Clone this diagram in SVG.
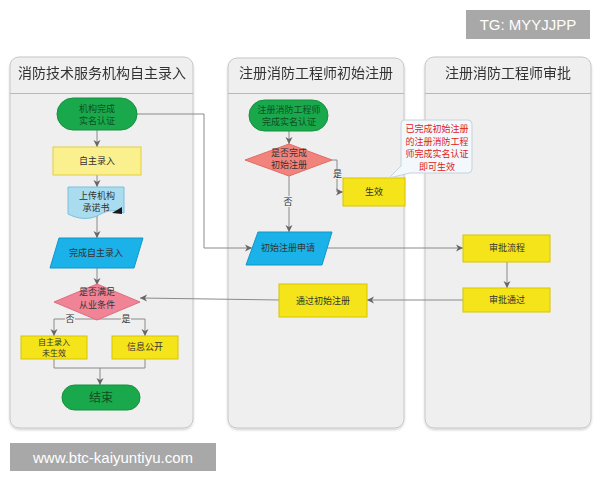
<svg xmlns="http://www.w3.org/2000/svg" width="600" height="480" viewBox="0 0 600 480">
<defs>
<marker id="arr" markerWidth="8" markerHeight="8" refX="7" refY="4" orient="auto" markerUnits="userSpaceOnUse">
<path d="M0,0.5 L7,4 L0,7.5 L2,4 Z" fill="#666"/>
</marker>
<filter id="sh" x="-5%" y="-5%" width="110%" height="110%">
<feDropShadow dx="0" dy="1.5" stdDeviation="1.2" flood-color="#000" flood-opacity="0.18"/>
</filter>
</defs>
<style>
.lane{fill:#efefef;stroke:#c6c6c6;stroke-width:1}
.hdr{stroke:#b8b8b8;stroke-width:1}
.title{font-family:"Noto Sans CJK SC","Noto Sans",sans-serif;font-size:14px;fill:#333;text-anchor:middle}
.t{font-family:"Noto Sans CJK SC","Noto Sans",sans-serif;font-size:9px;fill:#333;text-anchor:middle}
.s{font-size:8px}
.tg{font-family:"Noto Sans CJK SC","Noto Sans",sans-serif;font-size:9px;fill:#0f4f22;text-anchor:middle}
.tr{font-family:"Noto Sans CJK SC","Noto Sans",sans-serif;font-size:9px;fill:#e02020;text-anchor:middle}
.lbl{font-family:"Noto Sans CJK SC","Noto Sans",sans-serif;font-size:9px;fill:#333;text-anchor:middle}
.c{fill:none;stroke:#8a8a8a;stroke-width:1}
.pill{fill:#1aa84c;stroke:#15903f;stroke-width:1}
.ylw{fill:#f6e41a;stroke:#d6c400;stroke-width:1}
.ylw2{fill:#fbf08e;stroke:#e0d040;stroke-width:1}
.par{fill:#1ab2e8;stroke:#1296c8;stroke-width:1}
.wm{fill:#a8a8a8}
.wmt{font-family:"Liberation Sans",Arial,sans-serif;font-size:15px;fill:#fff}
</style>

<g id="lanes">
<g id="lane1" filter="url(#sh)">
<rect class="lane" x="10" y="57" width="183" height="371" rx="9"/>
<line class="hdr" x1="10" y1="93.5" x2="193" y2="93.5"/>
<text class="title" x="102" y="78">消防技术服务机构自主录入</text>
</g>
<g id="lane2" filter="url(#sh)">
<rect class="lane" x="228" y="58" width="176" height="370" rx="9"/>
<line class="hdr" x1="228" y1="93.5" x2="404" y2="93.5"/>
<text class="title" x="316" y="78">注册消防工程师初始注册</text>
</g>
<g id="lane3" filter="url(#sh)">
<rect class="lane" x="425" y="57" width="166" height="371" rx="9"/>
<line class="hdr" x1="425" y1="93.5" x2="591" y2="93.5"/>
<text class="title" x="508" y="78">注册消防工程师审批</text>
</g>
</g>

<g id="connectors">
<line class="c" x1="97" y1="130" x2="97" y2="147" marker-end="url(#arr)"/>
<line class="c" x1="97" y1="175" x2="97" y2="187" marker-end="url(#arr)"/>
<line class="c" x1="97" y1="216" x2="97" y2="238" marker-end="url(#arr)"/>
<line class="c" x1="97" y1="268" x2="97" y2="285" marker-end="url(#arr)"/>
<polyline class="c" points="97,320 97,319 54,319 54,336" marker-end="url(#arr)"/>
<polyline class="c" points="97,319 145,319 145,336" marker-end="url(#arr)"/>
<polyline class="c" points="54,359 54,368 145,368 145,359"/>
<line class="c" x1="100" y1="368" x2="100" y2="385" marker-end="url(#arr)"/>
<polyline class="c" points="137,114 204,114 204,248 252,248" marker-end="url(#arr)"/>
<line class="c" x1="289" y1="131" x2="289" y2="144" marker-end="url(#arr)"/>
<polyline class="c" points="332,160 337,160 337,192 343,192" marker-end="url(#arr)"/>
<line class="c" x1="289" y1="176" x2="289" y2="232" marker-end="url(#arr)"/>
<line class="c" x1="327" y1="248" x2="463" y2="248" marker-end="url(#arr)"/>
<line class="c" x1="507" y1="262" x2="507" y2="288" marker-end="url(#arr)"/>
<line class="c" x1="463" y1="300" x2="367" y2="300" marker-end="url(#arr)"/>
<polyline class="c" points="279,300 210,299 140,298" marker-end="url(#arr)"/>
<rect x="333" y="169" width="9" height="10" fill="#efefef"/>
<text class="lbl" x="337.5" y="177">是</text>
<rect x="283" y="196" width="10" height="11" fill="#efefef"/>
<text class="lbl" x="288" y="205">否</text>
<rect x="65" y="314" width="10" height="10" fill="#efefef"/>
<text class="lbl" x="70" y="322">否</text>
<rect x="121" y="314" width="10" height="10" fill="#efefef"/>
<text class="lbl" x="126" y="322">是</text>
</g>

<g id="n_start1">
<rect class="pill" x="57" y="98" width="80" height="32" rx="16"/>
<text class="tg" x="97" y="112">机构完成</text>
<text class="tg" x="97" y="124">实名认证</text>
</g>
<g id="n_input">
<rect class="ylw2" x="53" y="147" width="88" height="28"/>
<text class="t" x="97" y="164">自主录入</text>
</g>
<g id="n_doc">
<path d="M68,187 H124 V213 C112,208 104,212 97,216 C88,220 78,219 68,214 Z" fill="#a9dcef" stroke="#7cbfdb" stroke-width="1"/>
<path d="M112,213 L122,207 L122,214 Z" fill="#1a1a1a"/>
<text class="t" x="97" y="199">上传机构</text>
<text class="t" x="96" y="211">承诺书</text>
</g>
<g id="n_done">
<polygon class="par" points="59,238 143,238 134,268 50,268"/>
<text class="t" x="96" y="256">完成自主录入</text>
</g>
<g id="n_dec1">
<polygon points="97,284 140,302 97,320 54,302" fill="#f08496" stroke="#e06c80" stroke-width="1"/>
<text class="t" x="97" y="295">是否满足</text>
<text class="t" x="97" y="308">从业条件</text>
</g>
<g id="n_notyet">
<rect class="ylw" x="21" y="336" width="66" height="23"/>
<text class="t s" x="54" y="345">自主录入</text>
<text class="t s" x="54" y="356">未生效</text>
</g>
<g id="n_public">
<rect class="ylw" x="112" y="336" width="66" height="23"/>
<text class="t" x="145" y="350">信息公开</text>
</g>
<g id="n_end">
<rect class="pill" x="62" y="385" width="78" height="25" rx="12.5"/>
<text class="tg" x="101" y="402" style="font-size:12px">结束</text>
</g>

<g id="n_start2">
<rect class="pill" x="249" y="100" width="79" height="31" rx="15.5"/>
<text class="tg" x="289" y="113">注册消防工程师</text>
<text class="tg" x="289" y="125">完成实名认证</text>
</g>
<g id="n_dec2">
<polygon points="289,144 332,160 289,176 245,160" fill="#f2837c" stroke="#e06a64" stroke-width="1"/>
<text class="t" x="289" y="156">是否完成</text>
<text class="t" x="289" y="168">初始注册</text>
</g>
<g id="n_valid">
<rect class="ylw" x="343" y="178" width="62" height="28"/>
<text class="t" x="374" y="195">生效</text>
</g>
<g id="n_note">
<path d="M404,120 H468 Q472,120 472,124 V169 Q472,173 468,173 H410 L389,178 L401,166 V124 Q401,120 404,120 Z" fill="#f2f8fb" stroke="#c4d4dc" stroke-width="1"/>
<text class="tr" x="437" y="132">已完成初始注册</text>
<text class="tr" x="437" y="145">的注册消防工程</text>
<text class="tr" x="437" y="157">师完成实名认证</text>
<text class="tr" x="437" y="170">即可生效</text>
</g>
<g id="n_apply">
<polygon class="par" points="258,232 332,232 322,265 246,265"/>
<text class="t" x="288" y="251">初始注册申请</text>
</g>
<g id="n_pass">
<rect class="ylw" x="279" y="284" width="88" height="33"/>
<text class="t" x="323" y="304">通过初始注册</text>
</g>
<g id="n_flow">
<rect class="ylw" x="463" y="235" width="87" height="27"/>
<text class="t" x="507" y="251">审批流程</text>
</g>
<g id="n_approved">
<rect class="ylw" x="463" y="288" width="87" height="24"/>
<text class="t" x="507" y="303">审批通过</text>
</g>

<g id="watermarks">
<rect class="wm" x="466" y="10" width="124" height="29"/>
<text class="wmt" x="528" y="30" text-anchor="middle">TG: MYYJJPP</text>
<rect class="wm" x="10" y="443" width="206" height="28"/>
<text class="wmt" x="113" y="463" text-anchor="middle">www.btc-kaiyuntiyu.com</text>
</g>
</svg>
